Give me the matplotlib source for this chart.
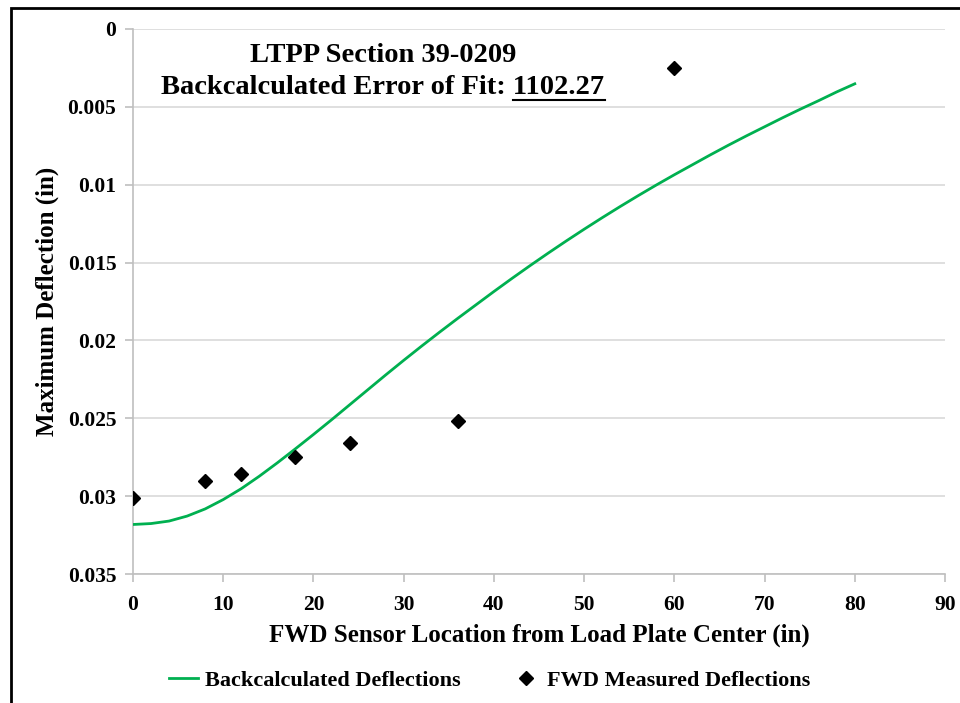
import matplotlib
matplotlib.use("Agg")
import matplotlib.pyplot as plt
from matplotlib.lines import Line2D
from matplotlib.patches import Rectangle

plt.rcParams['font.family'] = ['Liberation Serif', 'DejaVu Serif']
plt.rcParams['font.weight'] = 'bold'

# FWD measured deflections (in) at each sensor offset (in)
sensor_x = [0, 8, 12, 18, 24, 36, 60]
measured = [0.0301, 0.0290, 0.0286, 0.0275, 0.0266, 0.0252, 0.0025]

# backcalculated deflection basin, every 2 in out to 80 in
calc_x = list(range(0, 81, 2))
calc_y = [0.03182, 0.03176, 0.03160, 0.03128, 0.03082, 0.03022, 0.02952,
          0.02872, 0.02786, 0.02696, 0.02604, 0.02510, 0.02414, 0.02318,
          0.02222, 0.02128, 0.02036, 0.01946, 0.01858, 0.01772, 0.01686,
          0.01602, 0.01520, 0.01440, 0.01362, 0.01286, 0.01212, 0.01140,
          0.01070, 0.01002, 0.00936, 0.00872, 0.00808, 0.00746, 0.00686,
          0.00628, 0.00570, 0.00514, 0.00460, 0.00404, 0.00352]

y_ticks = [0, 0.005, 0.01, 0.015, 0.02, 0.025, 0.03, 0.035]
x_ticks = [0, 10, 20, 30, 40, 50, 60, 70, 80, 90]

section = "LTPP Section 39-0209"
fit_label = "Backcalculated Error of Fit: "
fit_value = "1102.27"

W, H = 960, 703
fig = plt.figure(figsize=(W / 100, H / 100), dpi=100)
ax = fig.add_axes([133 / W, 1 - 574 / H, (945 - 133) / W, (574 - 29) / H])

line, = ax.plot(calc_x, calc_y, color='#00B050', lw=2.0,
                label='Backcalculated Deflections', zorder=3,
                solid_joinstyle='round')
pts, = ax.plot(sensor_x, measured, 'D', color='black', ms=6.8, lw=0,
               label='FWD Measured Deflections', zorder=4)

ax.set_xlim(0, 90)
ax.set_ylim(0.035, 0)
ax.set_xticks(x_ticks)
ax.set_yticks(y_ticks)
ax.set_yticklabels([f"{v:g}" for v in y_ticks])
ax.grid(axis='y', color='#d9d9d9', lw=1.2)
ax.set_axisbelow(True)
for s in ['top', 'right']:
    ax.spines[s].set_visible(False)
for s in ['left', 'bottom']:
    ax.spines[s].set_color('#bfbfbf')
    ax.spines[s].set_linewidth(1.2)
ax.tick_params(colors='#bfbfbf', length=6, width=1.2, labelcolor='black',
               labelsize=15.5)
ax.tick_params(axis='x', pad=9)
ax.tick_params(axis='y', pad=6)

ax.set_xlabel("FWD Sensor Location from Load Plate Center (in)",
              fontsize=18, fontweight='bold', labelpad=6)
ax.set_ylabel("Maximum Deflection (in)", fontsize=18, fontweight='bold',
              labelpad=6)

# title block inside the plot
cx = 383 / W
fig.text(cx, 1 - 55 / H, section, ha='center', va='center', fontsize=20.5,
         fontweight='bold')
t2 = fig.text(cx, 1 - 88 / H, fit_label + fit_value, ha='center',
              va='center', fontsize=20.5, fontweight='bold')

fig.canvas.draw()
r = fig.canvas.get_renderer()
bb = t2.get_window_extent(r)
tmp = fig.text(0, 0, fit_value, fontsize=20.5, fontweight='bold')
wv = tmp.get_window_extent(r).width
tmp.remove()
uy = bb.y0 + 1
fig.add_artist(Line2D([(bb.x1 - wv) / W, bb.x1 / W], [uy / H, uy / H],
                      transform=fig.transFigure, color='black', lw=1.5))

fig.legend(handles=[line, pts], loc='center', bbox_to_anchor=(490 / W, 1 - 681 / H),
           ncol=2, frameon=False, fontsize=16, handlelength=1.3,
           columnspacing=2.3, handletextpad=0.3)

# outer frame
fig.add_artist(Rectangle((11 / W, -0.05), 1.2, 1 - 8 / H + 0.05,
                         transform=fig.transFigure, fill=False,
                         edgecolor='black', lw=2))

fig.savefig("out.png", dpi=100)
